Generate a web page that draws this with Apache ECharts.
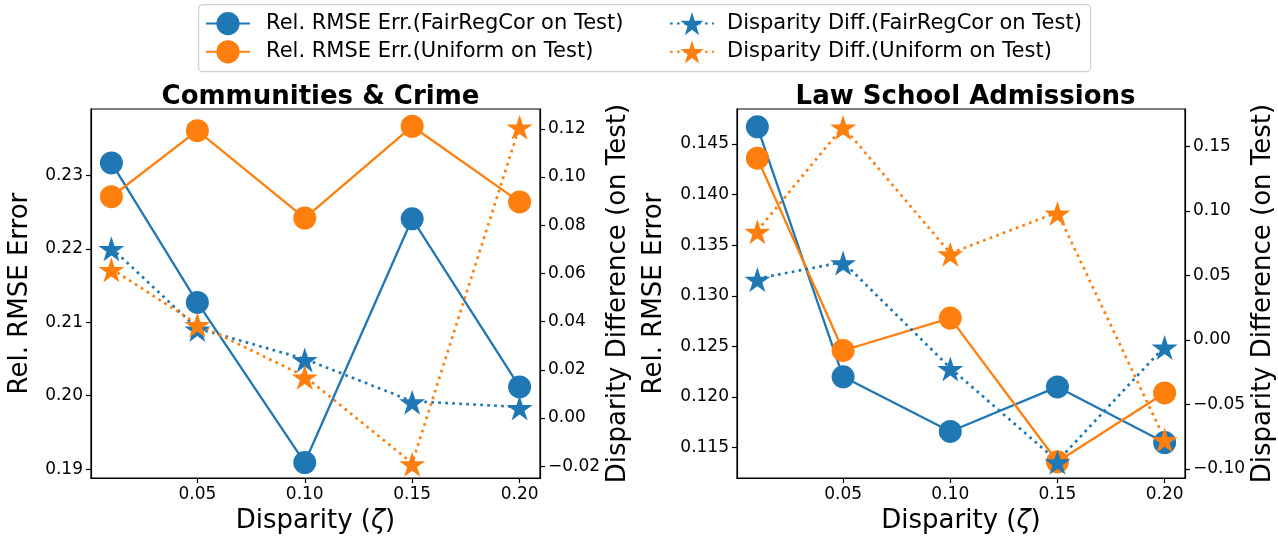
<!DOCTYPE html>
<html>
<head>
<meta charset="utf-8">
<script src="https://cdn.jsdelivr.net/npm/echarts@6/dist/echarts.min.js"></script>
<style>
html,body{margin:0;padding:0;background:#fff;}
#chart{width:1278px;height:539px;}
</style>
</head>
<body>
<div id="chart"></div>
<script>
const xValues = [0.01, 0.05, 0.10, 0.15, 0.20];
const ccRmseFair = [0.2317, 0.2127, 0.1909, 0.2241, 0.2012];
const ccRmseUni  = [0.2271, 0.2361, 0.2242, 0.2367, 0.2264];
const ccDispFair = [0.0706, 0.0372, 0.0245, 0.0070, 0.0046];
const ccDispUni  = [0.0619, 0.0390, 0.0173, -0.0187, 0.1210];
const lsRmseFair = [0.1467, 0.1220, 0.1166, 0.1210, 0.1155];
const lsRmseUni  = [0.1436, 0.1246, 0.1278, 0.1136, 0.1204];
const lsDispFair = [0.0475, 0.0603, -0.0218, -0.0941, -0.0051];
const lsDispUni  = [0.0846, 0.1654, 0.0672, 0.0988, -0.0769];

const xTicks = [0.05, 0.10, 0.15, 0.20];
const ccLeftTicks = [0.19, 0.20, 0.21, 0.22, 0.23];
const ccRightTicks = [-0.02, 0, 0.02, 0.04, 0.06, 0.08, 0.10, 0.12];
const lsLeftTicks = [0.115, 0.120, 0.125, 0.130, 0.135, 0.140, 0.145];
const lsRightTicks = [-0.10, -0.05, 0, 0.05, 0.10, 0.15];

const titles = ['Communities & Crime', 'Law School Admissions'];
const names = {
  rmseFair: 'Rel. RMSE Err.(FairRegCor on Test)',
  rmseUni: 'Rel. RMSE Err.(Uniform on Test)',
  dispFair: 'Disparity Diff.(FairRegCor on Test)',
  dispUni: 'Disparity Diff.(Uniform on Test)'
};

const BLUE = '#1f77b4', ORANGE = '#ff7f0e';
const FONT = 'DejaVu Sans';
const STAR = 'path://M0,-1L0.2245,-0.309L0.951,-0.309L0.363,0.118L0.588,0.809L0,0.382L-0.588,0.809L-0.363,0.118L-0.951,-0.309L-0.2245,-0.309Z';

const fmt = d => v => v.toFixed(d).replace('-', '\u2212');

const chart = echarts.init(document.getElementById('chart'));

function xAxisCfg(gi) {
  return {
    type: 'value', gridIndex: gi, min: 0.0005, max: 0.2095,
    name: 'Disparity ({i|ζ})', nameLocation: 'middle', nameGap: 29,
    nameTextStyle: { fontFamily: FONT, fontSize: 26, color: '#000',
      rich: { i: { fontFamily: FONT, fontSize: 26, fontStyle: 'italic', color: '#000' } } },
    splitLine: { show: false },
    axisLine: { show: true, onZero: false, lineStyle: { color: '#000', width: 1.2 } },
    axisTick: { show: true, length: 5, customValues: xTicks, lineStyle: { color: '#000', width: 1.2 } },
    axisLabel: { customValues: xTicks, formatter: fmt(2), fontFamily: FONT, fontSize: 17, color: '#000', margin: 8 }
  };
}
function yAxisCfg(gi, pos, min, max, ticks, dec, name, gap) {
  return {
    type: 'value', gridIndex: gi, position: pos, min: min, max: max,
    name: name, nameLocation: 'middle', nameGap: gap, nameRotate: 90,
    nameTextStyle: { fontFamily: FONT, fontSize: 26, color: '#000' },
    splitLine: { show: false },
    axisLine: { show: true, onZero: false, lineStyle: { color: '#000', width: 1.2 } },
    axisTick: { show: true, length: 5, customValues: ticks, lineStyle: { color: '#000', width: 1.2 } },
    axisLabel: { customValues: ticks, formatter: fmt(dec), fontFamily: FONT, fontSize: 17, color: '#000', margin: 8 }
  };
}
function rmseSeries(name, data, color, xi, yi) {
  return {
    type: 'line', name: name, xAxisIndex: xi, yAxisIndex: yi,
    data: xValues.map((x, i) => [x, data[i]]),
    symbol: 'circle', symbolSize: 23, showAllSymbol: true,
    lineStyle: { color: color, width: 2.3 }, itemStyle: { color: color },
    emphasis: { disabled: true }
  };
}
function dispSeries(name, data, color, xi, yi) {
  return {
    type: 'line', name: name, xAxisIndex: xi, yAxisIndex: yi,
    data: xValues.map((x, i) => [x, data[i]]),
    symbol: STAR, symbolSize: [26, 25], symbolOffset: [0, 1], showAllSymbol: true,
    lineStyle: { color: color, width: 2.7, type: [2.7, 4.3], cap: 'butt' }, itemStyle: { color: color },
    emphasis: { disabled: true }
  };
}

const option = {
  animation: false,
  backgroundColor: '#fff',
  title: [
    { text: titles[0], left: 315.5, top: 79, textAlign: 'center',
      textStyle: { fontFamily: FONT, fontSize: 26, fontWeight: 'bold', color: '#000' } },
    { text: titles[1], left: 960.6, top: 79, textAlign: 'center',
      textStyle: { fontFamily: FONT, fontSize: 26, fontWeight: 'bold', color: '#000' } }
  ],
  graphic: [{
    type: 'rect', left: 198, top: 4, z: -1,
    shape: { width: 892, height: 67, r: 4 },
    style: { fill: '#fff', stroke: '#d0d0d0', lineWidth: 1.2 }
  }],
  legend: [
    { orient: 'vertical', left: 205, top: 12, padding: 0, itemWidth: 44, itemHeight: 29, itemGap: 5,
      data: [names.rmseFair, names.rmseUni], selectedMode: false,
      textStyle: { fontFamily: FONT, fontSize: 21, color: '#000', padding: [0, 0, 0, 11] } },
    { orient: 'vertical', left: 669, top: 12, padding: 0, itemWidth: 44, itemHeight: 29, itemGap: 5,
      data: [names.dispFair, names.dispUni], selectedMode: false,
      textStyle: { fontFamily: FONT, fontSize: 21, color: '#000', padding: [0, 0, 0, 8] } }
  ],
  grid: [
    { left: 91, top: 109, width: 449, height: 372, show: true, borderColor: '#000', borderWidth: 1.2, backgroundColor: 'transparent' },
    { left: 737, top: 109, width: 448, height: 372, show: true, borderColor: '#000', borderWidth: 1.2, backgroundColor: 'transparent' }
  ],
  xAxis: [xAxisCfg(0), xAxisCfg(1)],
  yAxis: [
    yAxisCfg(0, 'left', 0.18878, 0.23905, ccLeftTicks, 2, 'Rel. RMSE Error', 58),
    yAxisCfg(0, 'right', -0.0249, 0.1282, ccRightTicks, 2, 'Disparity Difference (on Test)', 65),
    yAxisCfg(1, 'left', 0.11199, 0.14846, lsLeftTicks, 3, 'Rel. RMSE Error', 70),
    yAxisCfg(1, 'right', -0.1072, 0.179, lsRightTicks, 2, 'Disparity Difference (on Test)', 65)
  ],
  series: [
    rmseSeries(names.rmseFair, ccRmseFair, BLUE, 0, 0),
    rmseSeries(names.rmseUni, ccRmseUni, ORANGE, 0, 0),
    dispSeries(names.dispFair, ccDispFair, BLUE, 0, 1),
    dispSeries(names.dispUni, ccDispUni, ORANGE, 0, 1),
    rmseSeries(names.rmseFair, lsRmseFair, BLUE, 1, 2),
    rmseSeries(names.rmseUni, lsRmseUni, ORANGE, 1, 2),
    dispSeries(names.dispFair, lsDispFair, BLUE, 1, 3),
    dispSeries(names.dispUni, lsDispUni, ORANGE, 1, 3)
  ]
};
chart.setOption(option);
</script>
</body>
</html>
